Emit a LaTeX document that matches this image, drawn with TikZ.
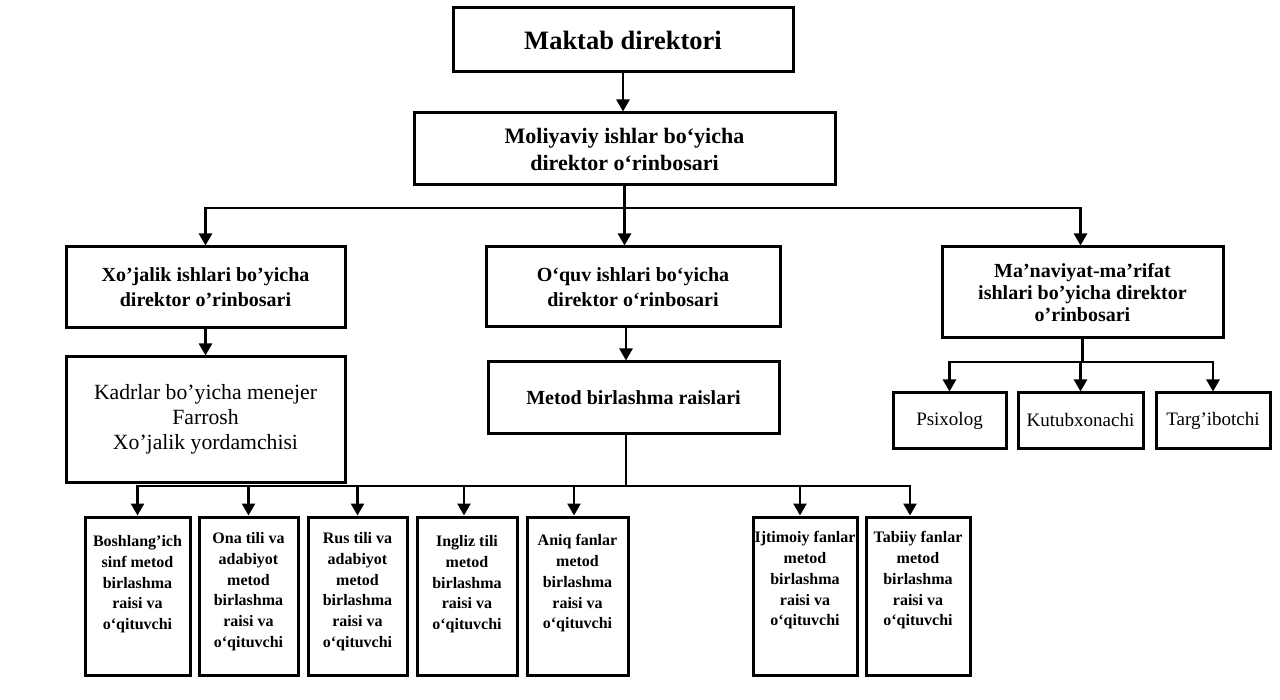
\documentclass[tikz,border=0pt]{standalone}
\usepackage{fontspec}
\setmainfont{Liberation Serif}
\usetikzlibrary{arrows.meta}
\begin{document}
\begin{tikzpicture}[x=1pt,y=-1pt,
  box/.style={draw, line width=3pt, rectangle, inner sep=0pt, align=center},
  btxt/.style={inner sep=0pt, align=center, anchor=north, font=\fontsize{16}{20.7}\selectfont\bfseries},
  conn/.style={line width=2.6pt},
  arr/.style={conn, -{Triangle[width=13pt,length=12pt]}},
  bbox/.style={box, minimum height=158pt}
]
\useasboundingbox[fill=white] (0,0) rectangle (1280,700);

% top levels
\node[box, minimum width=340pt, minimum height=64pt, font=\fontsize{26.5}{30}\selectfont\bfseries] (dir) at (623,40) {Maktab direktori};
\node[box, minimum width=421pt, minimum height=72pt, font=\fontsize{22}{27}\selectfont\bfseries] (mol) at (624.5,149) {Moliyaviy ishlar bo‘yicha\\direktor o‘rinbosari};

\node[box, minimum width=279pt, minimum height=81pt, font=\fontsize{20}{25}\selectfont\bfseries] (xoj) at (205.5,287.5) {Xo’jalik ishlari bo’yicha\\direktor o’rinbosari};
\node[box, minimum width=294pt, minimum height=80pt, font=\fontsize{20}{25}\selectfont\bfseries] (ouq) at (633,287) {O‘quv ishlari bo‘yicha\\direktor o‘rinbosari};
\node[box, minimum width=281pt, minimum height=91pt, font=\fontsize{20}{22}\selectfont\bfseries] (man) at (1082.5,292.5) {Ma’naviyat-ma’rifat\\ishlari bo’yicha direktor\\o’rinbosari};

\node[box, minimum width=279pt, minimum height=125pt, font=\fontsize{21.7}{25}\selectfont] (kad) at (205.5,419.5) {Kadrlar bo’yicha menejer\\Farrosh\\Xo’jalik yordamchisi};
\node[box, minimum width=291pt, minimum height=72pt, font=\fontsize{20}{24}\selectfont\bfseries] (met) at (633.5,398) {Metod birlashma raislari};

\node[box, minimum width=113pt, minimum height=55pt, font=\fontsize{19}{22}\selectfont] (psi) at (949.5,420.5) {Psixolog};
\node[box, minimum width=125pt, minimum height=55pt, font=\fontsize{19}{22}\selectfont] (kut) at (1080.5,420.5) {Kutubxonachi};
\node[box, minimum width=114pt, minimum height=55pt, font=\fontsize{19}{22}\selectfont] (tar) at (1213,420.5) {Targ’ibotchi};

% bottom boxes
\node[bbox, minimum width=105pt] (b1) at (137.5,596) {};
\node[bbox, minimum width=99pt]  (b2) at (248.5,596) {};
\node[bbox, minimum width=99pt]  (b3) at (357.5,596) {};
\node[bbox, minimum width=100pt] (b4) at (467,596) {};
\node[bbox, minimum width=101pt] (b5) at (577.5,596) {};
\node[bbox, minimum width=104pt] (b6) at (805,596) {};
\node[bbox, minimum width=104pt] (b7) at (918,596) {};

\node[btxt] (t1) at ([yshift=-20pt]b1.north) {Boshlang’ich\\sinf metod\\birlashma\\raisi va\\o‘qituvchi};
\node[btxt] (t2) at ([yshift=-17pt]b2.north) {Ona tili va\\adabiyot\\metod\\birlashma\\raisi va\\o‘qituvchi};
\node[btxt] (t3) at ([yshift=-17pt]b3.north) {Rus tili va\\adabiyot\\metod\\birlashma\\raisi va\\o‘qituvchi};
\node[btxt] (t4) at ([yshift=-20pt]b4.north) {Ingliz tili\\metod\\birlashma\\raisi va\\o‘qituvchi};
\node[btxt] (t5) at ([yshift=-19pt]b5.north) {Aniq fanlar\\metod\\birlashma\\raisi va\\o‘qituvchi};
\node[btxt] (t6) at ([yshift=-16pt]b6.north) {Ijtimoiy fanlar\\metod\\birlashma\\raisi va\\o‘qituvchi};
\node[btxt] (t7) at ([yshift=-16pt]b7.north) {Tabiiy fanlar\\metod\\birlashma\\raisi va\\o‘qituvchi};

% junction points
\coordinate (sp) at (626,0);
\coordinate (j1) at (624.5,208);
\coordinate (j2) at (626,486);
\coordinate (j3) at (1082.5,362);

% connectors
\draw[arr] (dir.south) -- (dir.south |- mol.north);
\draw[conn] (mol.south) -- (j1);
\draw[arr] (j1) -| (xoj.north);
\draw[arr] (j1) -- (j1 |- ouq.north);
\draw[arr] (j1) -| ([xshift=-2pt]man.north);

\draw[arr] (xoj.south) -- (kad.north);
\draw[arr] (ouq.south -| sp) -- (met.north -| sp);

\draw[conn] (man.south) -- (j3);
\draw[arr] (j3) -| (psi.north);
\draw[arr] (j3) -| (kut.north);
\draw[arr] (j3) -| (tar.north);

\draw[conn] (met.south -| sp) -- (j2);
\draw[arr] (j2) -| (b1.north);
\draw[arr] (j2) -| (b2.north);
\draw[arr] (j2) -| (b3.north);
\draw[arr] (j2) -| ([xshift=-3pt]b4.north);
\draw[arr] (j2) -| ([xshift=-3.5pt]b5.north);
\draw[arr] (j2) -| ([xshift=-5pt]b6.north);
\draw[arr] (j2) -| ([xshift=-8pt]b7.north);
\end{tikzpicture}
\end{document}
